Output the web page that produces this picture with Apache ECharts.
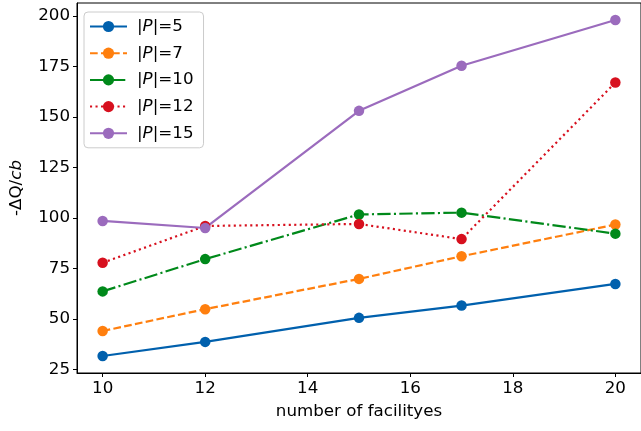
<!DOCTYPE html>
<html>
<head>
<meta charset="utf-8">
<script src="https://cdn.jsdelivr.net/npm/echarts@6/dist/echarts.min.js"></script>
<style>html,body{margin:0;padding:0;background:#fff;}#c{width:641px;height:431px;}</style>
</head>
<body>
<div id="c"></div>
<script>
const facilities = [10, 12, 15, 17, 20];
const p5  = [31.6, 38.6, 50.5, 56.6, 67.3];
const p7  = [44.0, 54.8, 69.8, 81.0, 96.7];
const p10 = [63.6, 79.6, 101.7, 102.6, 92.2];
const p12 = [77.8, 96.0, 97.0, 89.5, 167.0];
const p15 = [98.5, 95.0, 153.0, 175.3, 198.0];
const seriesNames = ['5', '7', '10', '12', '15'];
const xTicks = [10, 12, 14, 16, 18, 20];
const yTicks = [25, 50, 75, 100, 125, 150, 175, 200];

const colors = ['#0060ad', '#ff7f0e', '#00891a', '#d7101e', '#9b6bbd'];
const dashes = ['solid', [7.7, 3.3], [13.3, 3.3, 2.1, 3.3], [2.1, 3.4], 'solid'];
const allData = [p5, p7, p10, p12, p15];

const series = allData.map((vals, i) => ({
  name: seriesNames[i],
  type: 'line',
  data: facilities.map((x, j) => [x, vals[j]]),
  symbol: 'circle',
  symbolSize: 10.5,
  color: colors[i],
  lineStyle: { width: 2.2, type: dashes[i], color: colors[i] },
  itemStyle: { color: colors[i] },
  emphasis: { disabled: true },
  animation: false
}));

const font = 'DejaVu Sans';
const fs = 16.7;
const chart = echarts.init(document.getElementById('c'), null, { renderer: 'canvas' });
chart.setOption({
  animation: false,
  backgroundColor: '#fff',
  grid: { left: 76, top: 3, width: 565, height: 370, show: true, borderColor: '#000', borderWidth: 1, containLabel: false },
  legend: {
    orient: 'vertical',
    left: 84, top: 12,
    padding: [6, 10, 6, 5],
    itemGap: 9.7,
    itemWidth: 37, itemHeight: 14,
    backgroundColor: 'rgba(255,255,255,0.8)',
    borderColor: '#cccccc', borderWidth: 1, borderRadius: 4,
    data: seriesNames,
    formatter: n => '|{i|P}|=' + n,
    textStyle: {
      fontFamily: font, fontSize: fs, color: '#000', padding: [0, 0, 0, 5],
      rich: { i: { fontStyle: 'italic', fontFamily: font, fontSize: fs, color: '#000' } }
    }
  },
  xAxis: {
    type: 'value', min: 9.5, max: 20.5,
    name: 'number of facilityes', nameLocation: 'middle', nameGap: 30,
    nameTextStyle: { fontFamily: font, fontSize: fs, color: '#000' },
    axisLine: { show: true, lineStyle: { color: '#000', width: 1 } },
    axisTick: { show: true, length: 4, inside: false, customValues: xTicks, lineStyle: { color: '#000' } },
    axisLabel: { customValues: xTicks, fontFamily: font, fontSize: fs, color: '#000', margin: 7 },
    splitLine: { show: false }
  },
  yAxis: {
    type: 'value', min: 23.2, max: 206.4,
    name: '{n|-ΔQ/}{i|cb}', nameLocation: 'middle', nameGap: 52,
    nameTextStyle: {
      fontFamily: font, fontSize: fs, color: '#000',
      rich: {
        n: { fontFamily: font, fontSize: fs, color: '#000' },
        i: { fontFamily: font, fontSize: fs, color: '#000', fontStyle: 'italic' }
      }
    },
    axisLine: { show: true, lineStyle: { color: '#000', width: 1 } },
    axisTick: { show: true, length: 4, inside: false, customValues: yTicks, lineStyle: { color: '#000' } },
    axisLabel: { customValues: yTicks, fontFamily: font, fontSize: fs, color: '#000', margin: 7 },
    splitLine: { show: false }
  },
  series: series
});
</script>
</body>
</html>
